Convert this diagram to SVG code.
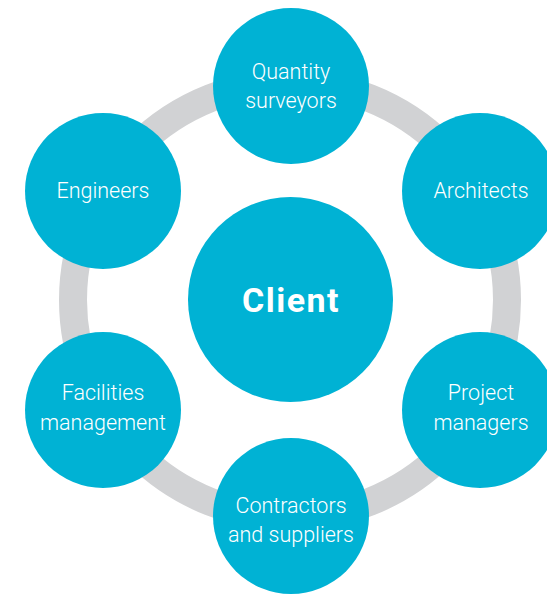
<svg xmlns="http://www.w3.org/2000/svg" width="547" height="595" viewBox="0 0 547 595">
<style>
.n{fill:#00b2d4}
.t{fill:#fff;font-family:Roboto,"Liberation Sans",sans-serif;font-weight:300;font-size:21.5px;text-anchor:middle}
.c{fill:#fff;font-family:Roboto,"Liberation Sans",sans-serif;font-weight:700;font-size:34px;text-anchor:middle;letter-spacing:1.5px}
</style>
<rect width="547" height="595" fill="#fff"/>
<g id="connectors">
<circle cx="290" cy="300" r="217" fill="none" stroke="#d1d2d4" stroke-width="28"/>
</g>
<g id="client"><circle class="n" cx="290.5" cy="299.5" r="102.5"/><text class="c" x="291" y="312">Client</text></g>
<g id="quantity-surveyors"><circle class="n" cx="291" cy="86" r="78"/><text class="t" x="291" y="79">Quantity</text><text class="t" x="291" y="108">surveyors</text></g>
<g id="architects"><circle class="n" cx="480" cy="191" r="78"/><text class="t" x="481" y="198">Architects</text></g>
<g id="project-managers"><circle class="n" cx="480" cy="410" r="78"/><text class="t" x="481" y="400">Project</text><text class="t" x="481" y="430">managers</text></g>
<g id="contractors-suppliers"><circle class="n" cx="291" cy="516" r="78"/><text class="t" x="291" y="513">Contractors</text><text class="t" x="291" y="542">and suppliers</text></g>
<g id="facilities-management"><circle class="n" cx="103" cy="410" r="78"/><text class="t" x="103" y="400">Facilities</text><text class="t" x="103" y="430">management</text></g>
<g id="engineers"><circle class="n" cx="103" cy="191" r="78"/><text class="t" x="103" y="198">Engineers</text></g>
</svg>
